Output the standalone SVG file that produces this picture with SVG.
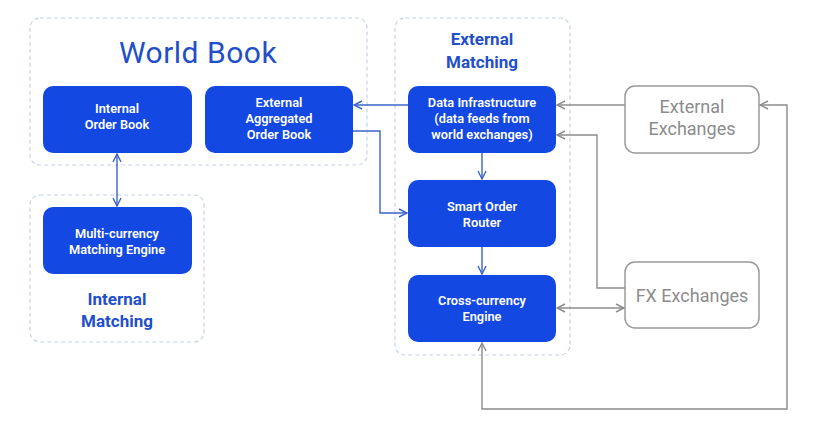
<svg xmlns="http://www.w3.org/2000/svg" width="817" height="423" viewBox="0 0 817 423">
<defs>
<style>
.grp{fill:none;stroke:#c5d3e6;stroke-width:1.2;stroke-dasharray:4 3}
.node{fill:#1448e2}
.ext{fill:#fff;stroke:#9a9a9a;stroke-width:1.5}
.nt{font-family:Roboto,"Liberation Sans",sans-serif;font-weight:600;font-size:12.8px;fill:#fff;text-anchor:middle}
.gt{font-family:Roboto,"Liberation Sans",sans-serif;font-weight:700;font-size:17px;fill:#1f4fc9;text-anchor:middle}
.xt{font-family:Roboto,"Liberation Sans",sans-serif;font-size:18px;fill:#8c8c8c;text-anchor:middle}
.bl{fill:none;stroke:#3b64c8;stroke-width:1.4}
.gl{fill:none;stroke:#8c8c8c;stroke-width:1.4}
</style>
<marker id="ab" viewBox="0 0 10 10" refX="9" refY="5" markerWidth="10" markerHeight="10" markerUnits="userSpaceOnUse" orient="auto-start-reverse"><path d="M1,1 L9,5 L1,9" fill="none" stroke="#3b64c8" stroke-width="1.4"/></marker>
<marker id="ag" viewBox="0 0 10 10" refX="9" refY="5" markerWidth="10" markerHeight="10" markerUnits="userSpaceOnUse" orient="auto-start-reverse"><path d="M1,1 L9,5 L1,9" fill="none" stroke="#8c8c8c" stroke-width="1.4"/></marker>
</defs>
<rect width="817" height="423" fill="#fff"/>
<g id="groups">
<rect class="grp" x="30" y="18" width="337" height="147" rx="10"/>
<rect class="grp" x="30" y="195" width="174" height="147" rx="10"/>
<rect class="grp" x="395" y="18" width="175" height="337" rx="10"/>
<text x="198" y="63" style="font-family:Roboto,'Liberation Sans',sans-serif;font-size:30px;letter-spacing:0.5px;fill:#1f4fc9;text-anchor:middle">World Book</text>
<text class="gt"><tspan x="117" y="305">Internal</tspan><tspan x="117" y="327">Matching</tspan></text>
<text class="gt"><tspan x="482" y="45">External</tspan><tspan x="482" y="68">Matching</tspan></text>
</g>
<g id="connectors">
<line class="bl" x1="117" y1="154" x2="117" y2="206" marker-start="url(#ab)" marker-end="url(#ab)"/>
<line class="bl" x1="408" y1="105" x2="354" y2="105" marker-end="url(#ab)"/>
<polyline class="bl" points="353,131 380,131 380,213 407,213" marker-end="url(#ab)"/>
<line class="bl" x1="482" y1="153" x2="482" y2="179" marker-end="url(#ab)"/>
<line class="bl" x1="482" y1="247" x2="482" y2="274" marker-end="url(#ab)"/>
<line class="gl" x1="625" y1="105" x2="557" y2="105" marker-end="url(#ag)"/>
<polyline class="gl" points="625,288 597,288 597,135 557,135" marker-end="url(#ag)"/>
<line class="gl" x1="557" y1="308" x2="624" y2="308" marker-start="url(#ag)" marker-end="url(#ag)"/>
<polyline class="gl" points="482,343 482,409 787,409 787,105 760,105" marker-start="url(#ag)" marker-end="url(#ag)"/>
</g>
<g id="internal-order-book">
<rect class="node" x="43" y="86" width="149" height="67" rx="10"/>
<text class="nt"><tspan x="117" y="113">Internal</tspan><tspan x="117" y="129">Order Book</tspan></text>
</g>
<g id="external-aggregated-order-book">
<rect class="node" x="205" y="86" width="148" height="67" rx="10"/>
<text class="nt"><tspan x="279" y="107">External</tspan><tspan x="279" y="123">Aggregated</tspan><tspan x="279" y="139">Order Book</tspan></text>
</g>
<g id="multi-currency-matching-engine">
<rect class="node" x="43" y="207" width="149" height="67" rx="10"/>
<text class="nt"><tspan x="117" y="238">Multi-currency</tspan><tspan x="117" y="254">Matching Engine</tspan></text>
</g>
<g id="data-infrastructure">
<rect class="node" x="408" y="86" width="148" height="67" rx="10"/>
<text class="nt"><tspan x="482" y="107">Data Infrastructure</tspan><tspan x="482" y="123">(data feeds from</tspan><tspan x="482" y="139">world exchanges)</tspan></text>
</g>
<g id="smart-order-router">
<rect class="node" x="408" y="180" width="148" height="67" rx="10"/>
<text class="nt"><tspan x="482" y="211">Smart Order</tspan><tspan x="482" y="227">Router</tspan></text>
</g>
<g id="cross-currency-engine">
<rect class="node" x="408" y="275" width="148" height="67" rx="10"/>
<text class="nt"><tspan x="482" y="305">Cross-currency</tspan><tspan x="482" y="321">Engine</tspan></text>
</g>
<g id="external-exchanges">
<rect class="ext" x="625" y="86" width="134" height="67" rx="10"/>
<text class="xt"><tspan x="692" y="113">External</tspan><tspan x="692" y="135">Exchanges</tspan></text>
</g>
<g id="fx-exchanges">
<rect class="ext" x="625" y="262" width="134" height="66" rx="10"/>
<text class="xt" x="692" y="302">FX Exchanges</text>
</g>
</svg>
